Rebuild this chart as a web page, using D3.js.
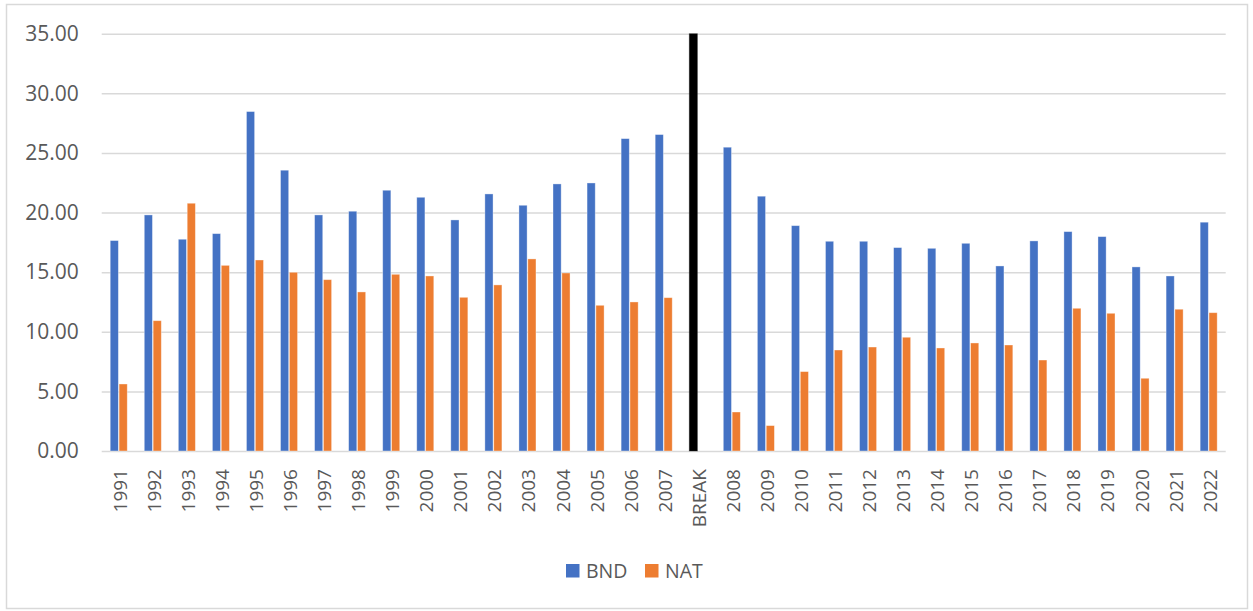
<!DOCTYPE html>
<html>
<head>
<meta charset="utf-8">
<script src="https://cdn.jsdelivr.net/npm/d3@7"></script>
<style>
  html, body { margin: 0; padding: 0; background: #fff; }
  svg { display: block; }
  text { font-family: "Open Sans", "Noto Sans", sans-serif; fill: #595959; }
</style>
</head>
<body>
<svg id="chart" width="1253" height="611"></svg>
<script>
// Categories along the x axis (BREAK separates the two periods)
const categories = ["1991","1992","1993","1994","1995","1996","1997","1998","1999","2000",
  "2001","2002","2003","2004","2005","2006","2007","BREAK","2008","2009","2010",
  "2011","2012","2013","2014","2015","2016","2017","2018","2019","2020","2021","2022"];

const seriesNames = ["BND", "NAT"];

// BND values; the BREAK entry is a full-height separator bar
const bndValues = [17.65, 19.80, 17.76, 18.23, 28.47, 23.55, 19.80, 20.11, 21.87, 21.28,
  19.38, 21.56, 20.61, 22.40, 22.48, 26.20, 26.54, 35.00, 25.48, 21.37, 18.90,
  17.59, 17.59, 17.06, 17.00, 17.42, 15.52, 17.62, 18.40, 17.98, 15.44, 14.68, 19.19];

const natValues = [5.62, 10.93, 20.78, 15.57, 16.02, 14.99, 14.37, 13.34, 14.82, 14.68,
  12.89, 13.93, 16.11, 14.93, 12.22, 12.50, 12.86, null, 3.27, 2.13, 6.66,
  8.47, 8.72, 9.54, 8.64, 9.06, 8.89, 7.63, 11.97, 11.55, 6.10, 11.89, 11.60];

const yTicks = [0, 5, 10, 15, 20, 25, 30, 35];

const colors = { BND: "#4472C4", NAT: "#ED7D31", BREAK: "#000000" };

const svg = d3.select("#chart");

// Outer chart frame
svg.append("rect")
  .attr("x", 6.5).attr("y", 4.5)
  .attr("width", 1241).attr("height", 604)
  .attr("fill", "#fff").attr("stroke", "#D9D9D9").attr("stroke-width", 1.5);

const plot = { left: 101.7, right: 1225.7, top: 33.7, bottom: 451 };

const x0 = d3.scaleBand()
  .domain(categories)
  .range([plot.left, plot.right])
  .paddingInner(0.5)
  .paddingOuter(0.25);

const x1 = d3.scaleBand()
  .domain(seriesNames)
  .range([0, x0.bandwidth()])
  .paddingInner(0.08);

const y = d3.scaleLinear().domain([0, 35]).range([plot.bottom, plot.top]);

// Horizontal gridlines and y-axis labels
const yAxis = d3.axisLeft(y)
  .tickValues(yTicks)
  .tickSize(-(plot.right - plot.left))
  .tickPadding(23)
  .tickFormat(d3.format(".2f"));

const yg = svg.append("g")
  .attr("transform", `translate(${plot.left},0)`)
  .call(yAxis);
yg.select(".domain").remove();
yg.selectAll(".tick line").attr("stroke", "#D9D9D9").attr("stroke-width", 1.5);
yg.selectAll(".tick text")
  .attr("font-size", 21)
  .attr("fill", "#595959")
  .style("font-family", "'Open Sans', 'Noto Sans', sans-serif");

// Bars
const rows = categories.map((c, i) => ({ cat: c, BND: bndValues[i], NAT: natValues[i] }));

const groups = svg.append("g").selectAll("g")
  .data(rows)
  .join("g")
  .attr("transform", d => `translate(${x0(d.cat)},0)`);

groups.selectAll("rect")
  .data(d => seriesNames
    .filter(s => d[s] != null)
    .map(s => ({ key: s, value: d[s], cat: d.cat })))
  .join("rect")
  .attr("x", d => x1(d.key))
  .attr("width", x1.bandwidth())
  .attr("y", d => y(d.value))
  .attr("height", d => y(0) - y(d.value))
  .attr("fill", d => d.cat === "BREAK" ? colors.BREAK : colors[d.key])
  .attr("stroke", d => d.cat === "BREAK" ? "#222" : "#fff")
  .attr("stroke-opacity", 0.45)
  .attr("stroke-width", 0.8);

// X-axis category labels (rotated)
const xAxis = d3.axisBottom(x0).tickSize(0).tickPadding(0);
const xg = svg.append("g")
  .attr("transform", `translate(0,${plot.bottom})`)
  .call(xAxis);
xg.select(".domain").remove();
xg.selectAll(".tick text")
  .attr("font-size", 19)
  .attr("fill", "#595959")
  .style("font-family", "'Open Sans', 'Noto Sans', sans-serif")
  .attr("text-anchor", "end")
  .attr("dy", null)
  .attr("y", 0)
  .attr("transform", "translate(8,18) rotate(-90)");

// Legend
const legend = svg.append("g").attr("transform", "translate(566,564)");
const legendItems = legend.selectAll("g")
  .data(seriesNames)
  .join("g")
  .attr("transform", (d, i) => `translate(${i * 79},0)`);
legendItems.append("rect")
  .attr("width", 13.5).attr("height", 13.5)
  .attr("fill", d => colors[d]);
legendItems.append("text")
  .attr("x", 20).attr("y", 13.5)
  .attr("font-size", 19.5)
  .text(d => d);
</script>
</body>
</html>
